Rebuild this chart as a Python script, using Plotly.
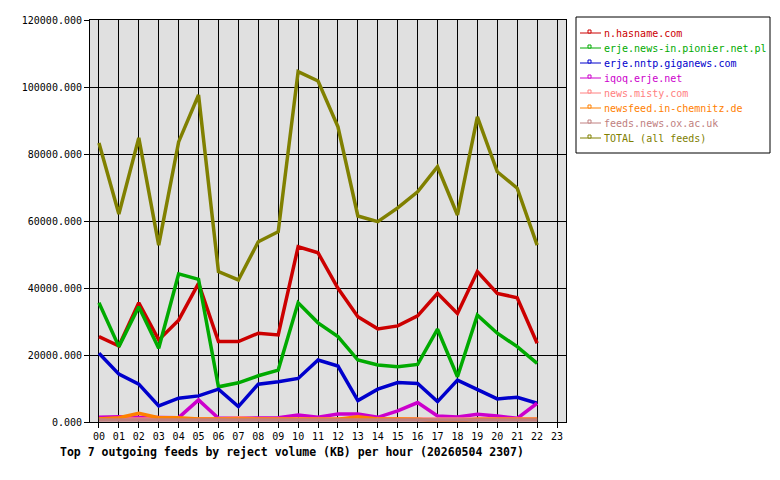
import plotly.graph_objects as go

# Horas do dia (00..23), só há dados até às 22
horas = list(range(24))
rotulos_horas = ["%02d" % h for h in horas]

# Volume rejeitado (KB) por hora
hasname = [25500, 22700, 35600, 24500, 30400, 41400, 24000, 24000, 26500, 26000, 52300, 50500,
           39900, 31400, 27800, 28700, 31700, 38400, 32400, 44900, 38400, 37100, 23500]
pionier = [35600, 22500, 34400, 22000, 44200, 42600, 10500, 11700, 13800, 15500, 35600, 29600,
           25500, 18500, 17000, 16500, 17200, 27700, 13500, 31900, 26500, 22500, 17500]
giganews = [20500, 14300, 11300, 4800, 7100, 7800, 9800, 4600, 11300, 12000, 13000, 18500,
            16700, 6400, 9800, 11800, 11500, 6100, 12500, 9600, 6900, 7400, 5600]
iqoq = [1400, 1600, 1400, 1300, 1300, 6600, 1100, 1100, 1100, 1300, 2100, 1400,
        2400, 2400, 1400, 3300, 5800, 1800, 1500, 2300, 1800, 1100, 5600]
misty = [900, 900, 900, 900, 900, 900, 900, 1300, 900, 900, 900, 900,
         900, 900, 900, 900, 900, 1000, 900, 900, 900, 900, 900]
chemnitz = [900, 1300, 2600, 1300, 1300, 900, 900, 900, 800, 700, 800, 800,
            800, 1600, 900, 900, 800, 300, 300, 800, 800, 800, 800]
oxac = [600, 600, 600, 700, 700, 600, 600, 600, 600, 700, 700, 600,
        600, 600, 600, 600, 600, 600, 600, 600, 600, 600, 600]
total = [83300, 62100, 84800, 52800, 83600, 97600, 44900, 42400, 53800, 56800, 104600, 101800,
         88100, 61500, 59800, 63900, 68700, 76200, 61800, 91100, 74700, 69800, 52800]

series = [
    ("n.hasname.com", hasname, "#cc0000"),
    ("erje.news-in.pionier.net.pl", pionier, "#00aa00"),
    ("erje.nntp.giganews.com", giganews, "#0000cc"),
    ("iqoq.erje.net", iqoq, "#cc00cc"),
    ("news.misty.com", misty, "#ff8080"),
    ("newsfeed.in-chemnitz.de", chemnitz, "#ff8000"),
    ("feeds.news.ox.ac.uk", oxac, "#c08080"),
    ("TOTAL (all feeds)", total, "#808000"),
]

fonte = "DejaVu Sans Mono"

# área do gráfico na tela (pixels); a página tem 8px de margem no body
esq, dir_, topo, base = 90, 566, 20, 422
deslocamento = 8

def px(x):
    return (x - esq) / (dir_ - esq)

def py(y):
    return (base - y) / (base - topo)

fig = go.Figure()

for nome, valores, cor in series:
    fig.add_trace(go.Scatter(x=horas[:len(valores)], y=valores, mode="lines",
                             line=dict(color=cor, width=3.5), showlegend=False, name=nome))

# Legenda desenhada à mão: caixa, linha fina com quadradinho, texto colorido
fig.add_shape(type="rect", xref="paper", yref="paper",
              x0=px(576), x1=px(770), y0=py(153), y1=py(17),
              line=dict(color="black", width=1), fillcolor="white", layer="above")
for i, (nome, valores, cor) in enumerate(series):
    yl = 33 + 15 * i
    fig.add_shape(type="line", xref="paper", yref="paper",
                  x0=px(580), x1=px(601), y0=py(yl), y1=py(yl),
                  line=dict(color=cor, width=1), layer="above")
    fig.add_shape(type="rect", xref="paper", yref="paper",
                  x0=px(588), x1=px(591), y0=py(yl), y1=py(yl - 3),
                  line=dict(color=cor, width=1), fillcolor="white", layer="above")
    fig.add_annotation(text=nome, xref="paper", yref="paper", x=px(602), y=py(yl),
                       xanchor="left", yanchor="middle", showarrow=False,
                       font=dict(family=fonte, size=10, color=cor))

fig.update_layout(
    width=780, height=480,
    margin=dict(l=esq - deslocamento, r=780 - dir_ + deslocamento,
                t=topo - deslocamento, b=480 - base + deslocamento),
    paper_bgcolor="white",
    plot_bgcolor="#e0e0e0",
    font=dict(family=fonte, size=10, color="black"),
    showlegend=False,
)

fig.update_xaxes(range=[-0.45, 23.45], tickvals=horas, ticktext=rotulos_horas,
                 showgrid=True, gridcolor="black", gridwidth=1,
                 showline=True, linecolor="black", linewidth=1, mirror=True,
                 ticks="outside", ticklen=5, tickcolor="black", zeroline=False,
                 automargin=False)
fig.update_yaxes(range=[0, 120000], dtick=20000, tickformat=".3f",
                 showgrid=True, gridcolor="black", gridwidth=1,
                 showline=True, linecolor="black", linewidth=1, mirror=True,
                 ticks="outside", ticklen=5, tickcolor="black", zeroline=False,
                 automargin=False)

fig.add_annotation(text="<b>Top 7 outgoing feeds by reject volume (KB) per hour (20260504 2307)</b>",
                   xref="paper", yref="paper", x=px(58), y=py(452),
                   xanchor="left", yanchor="middle", showarrow=False,
                   font=dict(family=fonte, size=11.5, color="black"))

fig.write_html("out.html")
